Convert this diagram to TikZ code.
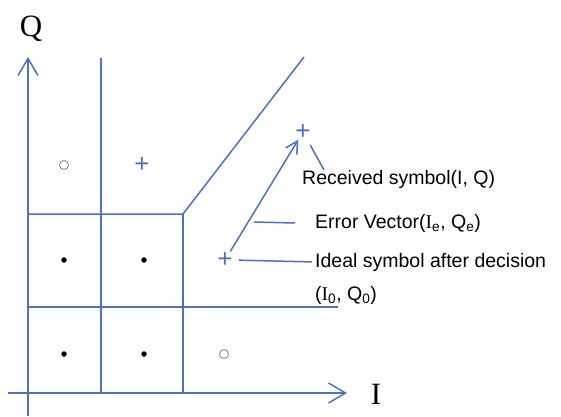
\documentclass[tikz,border=0pt]{standalone}
\usepackage{fontspec}
\usepackage{xcolor}
\usetikzlibrary{positioning,arrows.meta}
\newfontfamily\labelfont{Liberation Sans}
\newfontfamily\axisfont{Liberation Serif}
\definecolor{gridblue}{RGB}{74,114,192}
\newcommand{\serifI}{{\axisfont I}}

\begin{document}
\begin{tikzpicture}[
  x=1pt, y=-1pt,
  line/.style={draw=gridblue, line width=1.5pt},
  axis/.style={line, -{Straight Barb[length=17pt, width=20pt, line width=1.5pt]}},
  dotsym/.style={circle, fill=black, inner sep=0pt, minimum size=5.5pt},
  ringsym/.style={circle, draw=gray, line width=0.8pt, inner sep=0pt, minimum size=9pt},
  plussym/.style={text=gridblue, font=\labelfont\fontsize{26}{26}\selectfont, inner sep=0pt},
  note/.style={anchor=west, inner sep=0pt, font=\labelfont\fontsize{19.5}{22}\selectfont}
]
\useasboundingbox (0,0) rectangle (561,416);

% axes
\draw[axis] (28,416) -- (28,57);
\draw[axis] (8,393) -- (347,393);
\node[font=\axisfont\fontsize{31}{31}\selectfont] (qlabel) at (31,29) {Q};
\node[font=\axisfont\fontsize{31}{31}\selectfont] (ilabel) at (376,394) {I};

% decision boundaries
\draw[line] (101,58) -- (101,393);
\draw[line] (28,214) -- (183,214) -- (304,57);
\draw[line] (183,214) -- (183,393);
\draw[line] (28,307) -- (338,307);

% constellation
\node[ringsym] (s11) at (64,165) {};
\node[plussym] (s12) at (142,165) {+};
\node[dotsym] (s21) at (64,260) {};
\node[dotsym] (s22) at (144,260) {};
\node[dotsym] (s31) at (64,354) {};
\node[dotsym] (s32) at (144,354) {};
\node[ringsym] (s33) at (224,354) {};
\node[plussym] (ideal) at (225,260) {+};
\node[plussym] (rx) at (303,132) {+};

\draw[line, -{Straight Barb[length=12pt, width=13pt, line width=1.5pt]}, shorten <=1pt] (ideal) -- (rx);

% annotations
\node[note] (rxnote) at (302,179) {Received symbol(I, Q)};
\node[note] (evnote) at (315,223) {Error Vector(\serifI\textsubscript{e}, Q\textsubscript{e})};
\node[note] (idealnote) at (315,262) {Ideal symbol after decision};
\node[note] (idealxy) at (315,295) {(\serifI\textsubscript{0}, Q\textsubscript{0})};

\coordinate (rxfoot) at (324,170);
\coordinate (evtail) at (254,222);
\draw[line, shorten <=6pt] (rx) -- (rxfoot);
\draw[line] (evtail) -- ([xshift=-20pt]evnote.west);
\draw[line, shorten <=6pt, shorten >=3pt] (ideal.east) -- (idealnote.west);
\end{tikzpicture}
\end{document}
